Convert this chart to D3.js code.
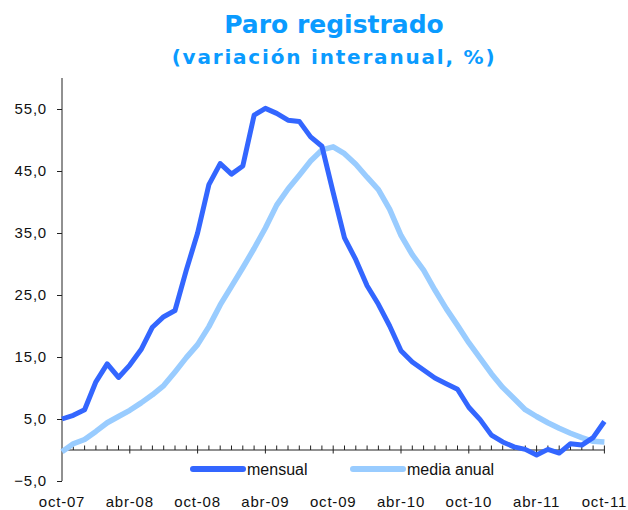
<!DOCTYPE html>
<html>
<head>
<meta charset="utf-8">
<script src="https://cdn.jsdelivr.net/npm/d3@7"></script>
<style>
  body { margin: 0; background: #fff; }
  svg text { font-family: "Liberation Sans", Arial, sans-serif; }
</style>
</head>
<body>
<div id="chart"></div>
<script>
// months oct-07 .. oct-11 (index 0..48)
var tickLabels = ["oct-07", "abr-08", "oct-08", "abr-09", "oct-09", "abr-10", "oct-10", "abr-11", "oct-11"]

// variacion interanual mensual (%)
var mensual = [5.0, 5.6, 6.5, 11.0, 13.9, 11.7, 13.7, 16.2, 19.8, 21.5, 22.5, 29.0,
               35.0, 42.8, 46.2, 44.5, 45.8, 54.0, 55.1, 54.3, 53.2, 53.0, 50.5, 49.0,
               41.5, 34.2, 30.7, 26.5, 23.5, 20.0, 16.0, 14.2, 12.9, 11.6, 10.7, 9.8,
               6.9, 4.9, 2.4, 1.3, 0.5, 0.1, -0.8, 0.1, -0.5, 1.0, 0.8, 2.0, 4.6]

// media anual (%)
var mediaAnual = [-0.3, 1.0, 1.7, 3.0, 4.4, 5.4, 6.4, 7.6, 8.9, 10.4, 12.6, 14.9,
                  17.0, 19.9, 23.4, 26.4, 29.4, 32.5, 35.8, 39.5, 42.1, 44.3, 46.6, 48.4,
                  48.9, 47.8, 46.1, 44.0, 42.0, 38.8, 34.6, 31.5, 29.0, 25.8, 22.8, 20.1,
                  17.3, 14.8, 12.3, 10.1, 8.3, 6.5, 5.4, 4.4, 3.5, 2.7, 2.0, 1.4, 1.3]

var yTicks = [-5, 5, 15, 25, 35, 45, 55]

var width = 628, height = 510

var svg = d3.select("#chart")
  .append("svg")
    .attr("width", width)
    .attr("height", height)

var x = d3.scaleLinear()
    .domain([0, 48])
    .range([62, 604.4])

var y = d3.scaleLinear()
    .domain([-5, 60])
    .range([481, 78])

var esLocale = d3.formatLocale({decimal: ",", thousands: ".", grouping: [3], currency: ["", "€"]})
var fmt = esLocale.format(".1f")

// titles
svg.append("text")
  .attr("x", 334).attr("y", 33)
  .attr("text-anchor", "middle")
  .style("font-family", "'DejaVu Sans', Verdana, sans-serif")
  .style("font-weight", "bold")
  .style("font-size", "25px")
  .attr("fill", "#0A9BFF")
  .text("Paro registrado")

svg.append("text")
  .attr("x", 334).attr("y", 64)
  .attr("text-anchor", "middle")
  .style("font-family", "'DejaVu Sans', Verdana, sans-serif")
  .style("font-weight", "bold")
  .style("font-size", "20px")
  .style("letter-spacing", "1.8px")
  .attr("fill", "#0A9BFF")
  .text("(variación interanual, %)")

// y axis
var yAxis = svg.append("g")
  .attr("transform", "translate(" + x(0) + ",0)")
  .call(d3.axisLeft(y).tickValues(yTicks).tickSize(5).tickPadding(11).tickFormat(fmt))
yAxis.select(".domain").attr("stroke", "#222").attr("d", "M0," + y(-5) + "V" + y(60))
yAxis.selectAll(".tick line").attr("stroke", "#222")
yAxis.selectAll(".tick text")
  .style("font-size", "15px")
  .style("letter-spacing", "0.8px")
  .attr("fill", "#111")
  .attr("dx", "1px")

// x axis at zero
var xAxis = svg.append("g")
xAxis.append("line")
  .attr("x1", x(0)).attr("x2", x(48))
  .attr("y1", y(0)).attr("y2", y(0))
  .attr("stroke", "#222")

xAxis.selectAll(".xtick")
  .data(d3.range(1, 49))
  .enter()
  .append("line")
  .attr("class", "xtick")
  .attr("x1", function(d) { return x(d); })
  .attr("x2", function(d) { return x(d); })
  .attr("y1", y(0) - 4.5)
  .attr("y2", function(d) { return d % 6 == 0 ? y(0) + 3.5 : y(0); })
  .attr("stroke", "#222")

svg.selectAll(".xlabel")
  .data(tickLabels)
  .enter()
  .append("text")
  .attr("class", "xlabel")
  .attr("x", function(d, i) { return x(i * 6); })
  .attr("y", 507)
  .attr("text-anchor", "middle")
  .style("font-size", "15px")
  .style("letter-spacing", "0.8px")
  .attr("fill", "#111")
  .text(function(d) { return d; })

// lines
var line = d3.line()
  .x(function(d, i) { return x(i); })
  .y(function(d) { return y(d); })

svg.append("path")
  .datum(mediaAnual)
  .attr("fill", "none")
  .attr("stroke", "#99CCFF")
  .attr("stroke-width", 5.5)
  .attr("stroke-linejoin", "round")
  .attr("d", line)

svg.append("path")
  .datum(mensual)
  .attr("fill", "none")
  .attr("stroke", "#3366FF")
  .attr("stroke-width", 5)
  .attr("stroke-linejoin", "round")
  .attr("d", line)

// legend
var legend = [
  {name: "mensual", color: "#3366FF", x0: 193},
  {name: "media anual", color: "#99CCFF", x0: 353}
]
var lg = svg.selectAll(".legend")
  .data(legend)
  .enter()
  .append("g")
  .attr("class", "legend")
lg.append("line")
  .attr("x1", function(d) { return d.x0; })
  .attr("x2", function(d) { return d.x0 + 50; })
  .attr("y1", 469).attr("y2", 469)
  .attr("stroke", function(d) { return d.color; })
  .attr("stroke-width", 6)
  .attr("stroke-linecap", "round")
lg.append("text")
  .attr("x", function(d) { return d.x0 + 54; })
  .attr("y", 475)
  .style("font-size", "16px")
  .attr("fill", "#111")
  .text(function(d) { return d.name; })
</script>
</body>
</html>
